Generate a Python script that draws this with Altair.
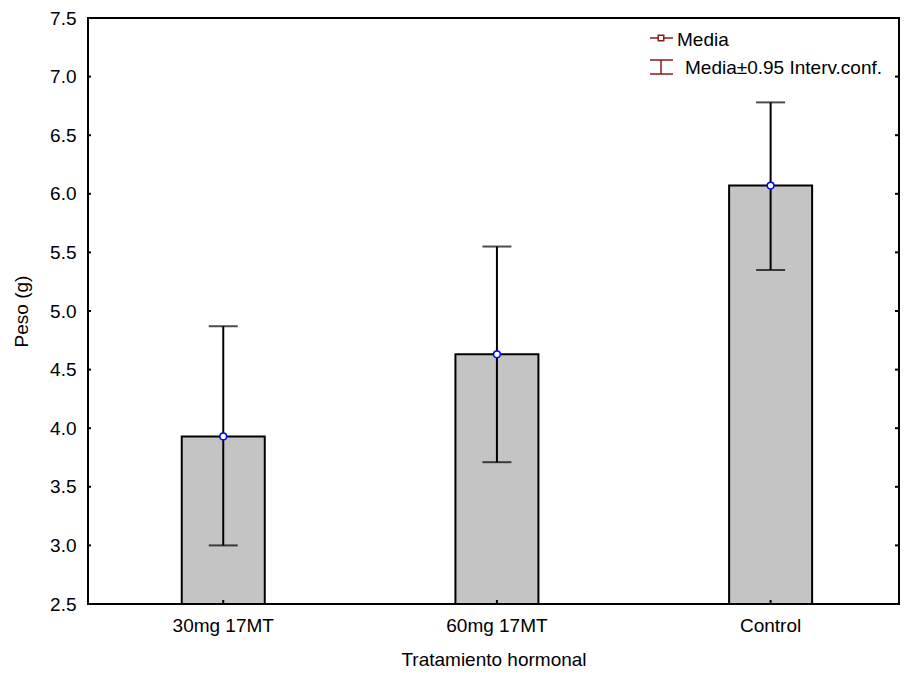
import altair as alt
import pandas as pd

categories = ["30mg 17MT", "60mg 17MT", "Control"]
means = [3.93, 4.63, 6.07]
lower = [3.00, 3.71, 5.35]
upper = [4.87, 5.55, 6.78]
y_ticks = [2.5, 3.0, 3.5, 4.0, 4.5, 5.0, 5.5, 6.0, 6.5, 7.0, 7.5]
legend_labels = ["Media", "Media±0.95 Interv.conf."]

df = pd.DataFrame({"cat": categories, "mean": means, "lo": lower, "hi": upper})
tick_df = pd.DataFrame({"v": y_ticks})
one = pd.DataFrame({"k": [0]})

FONT = "Liberation Sans"
FS = 19
W, H = 811, 586
LEG = "#8b1a1a"

xscale = alt.Scale(domain=categories, paddingInner=0.6967, paddingOuter=0.33, align=0.519)
yscale = alt.Scale(domain=[2.5, 7.5], zero=False, nice=False)

x_axis = alt.Axis(title="Tratamiento hormonal", labelAngle=0, domain=False, ticks=False,
                  labelPadding=12, titlePadding=15, labelFontSize=FS, titleFontSize=FS,
                  labelFont=FONT, titleFont=FONT, labelColor="black", titleColor="black",
                  titleFontWeight="normal", grid=False)
y_axis = alt.Axis(title="Peso (g)", values=y_ticks, format=".1f", domain=False, ticks=False,
                  labelPadding=12, titlePadding=18, labelFontSize=FS, titleFontSize=FS,
                  labelFont=FONT, titleFont=FONT, labelColor="black", titleColor="black",
                  titleFontWeight="normal", grid=False)

X = alt.X("cat:N", scale=xscale, sort=categories, axis=x_axis)

base = alt.Chart(df)

bars = base.mark_bar(fill="#c4c4c4", stroke="black", strokeWidth=2).encode(
    x=X,
    y=alt.Y("mean:Q", scale=yscale, axis=y_axis),
    y2=alt.datum(2.5),
)

err = base.mark_rule(color="black", strokeWidth=2).encode(
    x=X,
    y=alt.Y("lo:Q", scale=yscale, axis=y_axis),
    y2="hi:Q",
)

cap_hi = base.mark_tick(color="black", thickness=2, size=29, orient="horizontal").encode(
    x=X, y=alt.Y("hi:Q", scale=yscale, axis=y_axis)
)
cap_lo = base.mark_tick(color="black", thickness=2, size=29, orient="horizontal").encode(
    x=X, y=alt.Y("lo:Q", scale=yscale, axis=y_axis)
)

bottom_ticks = base.mark_rule(color="black", strokeWidth=2).encode(
    x=X, y=alt.value(H - 4), y2=alt.value(H)
)

pts = base.mark_point(filled=True, fill="white", stroke="#0000ff", strokeWidth=1.5,
                      size=45, opacity=1).encode(
    x=X, y=alt.Y("mean:Q", scale=yscale, axis=y_axis)
)

tick_base = alt.Chart(tick_df)
left_ticks = tick_base.mark_rule(color="black", strokeWidth=2).encode(
    x=alt.value(0), x2=alt.value(3), y=alt.Y("v:Q", scale=yscale, axis=y_axis)
)
right_ticks = tick_base.mark_rule(color="black", strokeWidth=2).encode(
    x=alt.value(W - 4), x2=alt.value(W), y=alt.Y("v:Q", scale=yscale, axis=y_axis)
)

# legend (single-row data so each element is drawn once)
lb = alt.Chart(one)
leg_line = lb.mark_rule(color=LEG, strokeWidth=1.5).encode(
    x=alt.value(562), x2=alt.value(585), y=alt.value(20)
)
leg_sq = lb.mark_square(fill="white", stroke=LEG, strokeWidth=1.5, size=30,
                        opacity=1, filled=True).encode(
    x=alt.value(573), y=alt.value(20)
)
leg_v = lb.mark_rule(color=LEG, strokeWidth=1.5).encode(
    x=alt.value(573), y=alt.value(42), y2=alt.value(56)
)
leg_c1 = lb.mark_rule(color=LEG, strokeWidth=1.5).encode(
    x=alt.value(562), x2=alt.value(585), y=alt.value(42)
)
leg_c2 = lb.mark_rule(color=LEG, strokeWidth=1.5).encode(
    x=alt.value(562), x2=alt.value(585), y=alt.value(56)
)
leg_t1 = lb.mark_text(align="left", baseline="middle", font=FONT, fontSize=FS,
                      color="black").encode(
    x=alt.value(589), y=alt.value(22), text=alt.value(legend_labels[0])
)
leg_t2 = lb.mark_text(align="left", baseline="middle", font=FONT, fontSize=FS,
                      color="black").encode(
    x=alt.value(597), y=alt.value(50), text=alt.value(legend_labels[1])
)

chart = alt.layer(
    bars, err, cap_hi, cap_lo, bottom_ticks, pts, left_ticks, right_ticks,
    leg_line, leg_sq, leg_v, leg_c1, leg_c2, leg_t1, leg_t2
).properties(
    width=W, height=H,
    autosize=alt.AutoSizeParams(type="none"),
    padding={"left": 80, "top": 10, "right": 1, "bottom": 67},
    background="white",
).configure_view(
    stroke="black", strokeWidth=2
)

chart.save("out.html", embed_options={"renderer": "svg", "actions": False})
